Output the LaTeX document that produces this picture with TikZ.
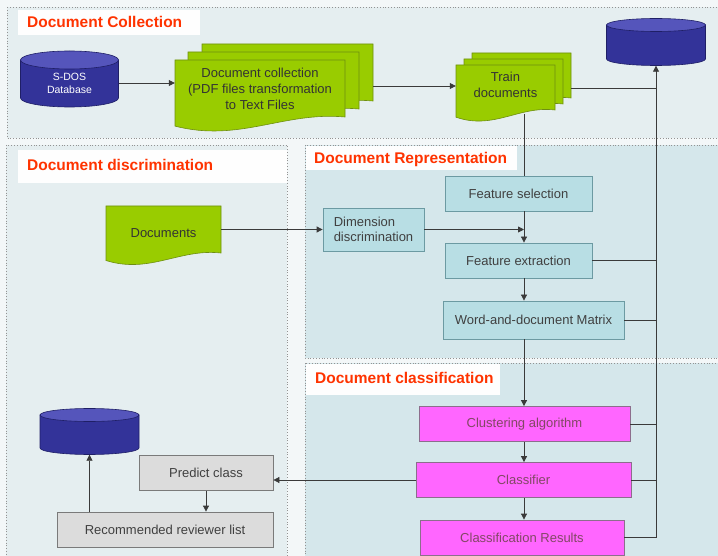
\documentclass[tikz,border=0pt]{standalone}
\usepackage{fontspec}
\setmainfont{Liberation Sans}
\usetikzlibrary{arrows.meta}

\definecolor{pagebg}{HTML}{F3F7F8}
\definecolor{panelbg}{HTML}{E5EEF0}
\definecolor{paneldark}{HTML}{D5E7EB}
\definecolor{titlered}{HTML}{FF3300}
\definecolor{docgreen}{HTML}{99CC00}
\definecolor{docedge}{HTML}{6E8F10}
\definecolor{dbbody}{HTML}{333399}
\definecolor{dbtop}{HTML}{5555BB}
\definecolor{dbedge}{HTML}{1F1F66}
\definecolor{repfill}{HTML}{B8DEE4}
\definecolor{repedge}{HTML}{6C9AA2}
\definecolor{clsfill}{HTML}{FF66FF}
\definecolor{clsedge}{HTML}{8C6E8C}
\definecolor{outfill}{HTML}{DCDCDC}
\definecolor{outedge}{HTML}{7A7A7A}
\definecolor{linegray}{HTML}{3A3A3A}

\newcommand{\wavedoc}[4]{%
	\filldraw [docpage] (#1,#2) -- (#3,#2) -- (#3,#4)
		.. controls ({#3-0.36*(#3-#1)},{#4-0.1*(#4-#2)})
		and ({#1+0.38*(#3-#1)},{#4+0.45*(#4-#2)}) ..
		(#1,{#4+0.16*(#4-#2)}) -- cycle;}
% x centre, y of top ellipse, y of lower side end, x radius, y radius
\newcommand{\dbdisk}[5]{%
	\filldraw [dbpart, fill=dbbody] (#1-#4,#2) -- (#1-#4,#3)
		arc [start angle=180, end angle=0, x radius=#4, y radius=#5] -- (#1+#4,#2) -- cycle;
	\filldraw [dbpart, fill=dbtop] (#1,#2) ellipse [x radius=#4, y radius=#5];}

\begin{document}
\begin{tikzpicture}[x=1pt, y=-1pt,
	panel/.style={draw=gray!85, dotted, line width=0.8pt},
	title/.style={anchor=west, inner sep=0pt, text=titlered, font=\fontsize{15.5}{18}\selectfont\bfseries},
	docpage/.style={fill=docgreen, draw=docedge, line width=0.6pt},
	doctext/.style={align=center, text=black!80, inner sep=0pt, font=\fontsize{13}{16}\selectfont},
	dbpart/.style={draw=dbedge, line width=0.6pt},
	database/.style={inner sep=0pt, minimum width=99pt},
	stepbox/.style={draw, line width=0.8pt, minimum height=35pt, text=black!75, inner sep=0pt,
		font=\fontsize{13}{15.5}\selectfont},
	repbox/.style={stepbox, fill=repfill, draw=repedge},
	clsbox/.style={stepbox, fill=clsfill, draw=clsedge, text=black!55!magenta},
	outbox/.style={stepbox, fill=outfill, draw=outedge},
	link/.style={draw=linegray, line width=0.8pt},
	flow/.style={link, -{Triangle[length=6pt, width=6pt]}}
	]
	\useasboundingbox (0,0) rectangle (718,556);
	\clip (0,0) rectangle (718,556);
	\fill [pagebg] (0,0) rectangle (718,556);

	\filldraw [panel, fill=panelbg] (7,7) rectangle (725,138);
	\filldraw [panel, fill=panelbg] (6,145) rectangle (287,560);
	\filldraw [panel, fill=paneldark] (305,145) rectangle (725,358);
	\filldraw [panel, fill=paneldark] (305,363) rectangle (725,560);
	\fill [white!95!panelbg] (18,10) rectangle (200,35);
	\fill [white!95!panelbg] (18,150) rectangle (287,183);
	\fill [white!95!panelbg] (306,146) rectangle (517,170);
	\fill [white!95!panelbg] (306,364) rectangle (500,395);
	\node [title] (colltitle) at (27,22) {Document Collection};
	\node [title] (disctitle) at (27,165) {Document discrimination};
	\node [title] (reptitle) at (314,159) {Document Representation};
	\node [title] (clstitle) at (315,378) {Document classification};

	\wavedoc{202}{44}{373}{101}
	\wavedoc{188}{52}{359}{109}
	\wavedoc{175}{60}{345}{117}
	\node [doctext, minimum width=170pt, minimum height=57pt] (coll) at (260,88.5)
		{Document collection\\(PDF files transformation\\to Text Files};
	\wavedoc{472}{53}{571}{98}
	\wavedoc{464}{59}{563}{104}
	\wavedoc{456}{65}{555}{110}
	\node [doctext, minimum width=99pt, minimum height=45pt] (train) at (505.5,85) {Train\\documents};
	\wavedoc{106}{206}{221}{253}
	\node [doctext, minimum width=115pt, minimum height=47pt] (docs) at (163.5,229.5) {};
	\node [doctext] (docslabel) at (163.5,233) {Documents};

	\dbdisk{69.5}{60}{98}{49}{9}
	\dbdisk{656}{25}{59}{49.5}{6.5}
	\dbdisk{89.5}{415}{448}{49.5}{6.5}
	\node [database, minimum height=48pt, text=white, align=center, font=\fontsize{10.5}{13}\selectfont]
		(sdos) at (69.5,83) {S-DOS\\Database};
	\node [database, minimum height=41pt] (topdb) at (656,45) {};
	\node [database, minimum height=39pt] (leftdb) at (89.5,435) {};

	\node [repbox, minimum width=147pt] (featsel) at (518.5,193.5) {Feature selection};
	\node [repbox, minimum width=101pt, minimum height=43pt, align=left] (dimdisc) at (373.5,229.5)
		{Dimension\\discrimination};
	\node [repbox, minimum width=147pt] (featext) at (518.5,260.5) {Feature extraction};
	\node [repbox, minimum width=181pt, minimum height=38pt] (wdm) at (533.5,320) {Word-and-document Matrix};
	\node [clsbox, minimum width=211pt] (cluster) at (524.5,424) {Clustering algorithm};
	\node [clsbox, minimum width=215pt] (classifier) at (523.5,480) {Classifier};
	\node [clsbox, minimum width=204pt] (results) at (522,537.5) {Classification Results};
	\node [outbox, minimum width=134pt] (predict) at (206,473) {Predict class};
	\node [outbox, minimum width=216pt] (reviewers) at (165,529.5) {Recommended reviewer list};

	\coordinate (collback) at (373,86);
	\coordinate (trainback) at (571,88);
	\coordinate (trainfoot) at (524,114);
	\coordinate (spine) at (524,0);

	\draw [flow] (sdos.east) -- (sdos.east -| coll.west);
	\draw [flow] (collback) -- (collback -| train.west);
	\draw [link] (trainback) -- (trainback -| topdb.south);
	\draw [link] (trainfoot) -- (featsel.north -| spine);
	\draw [flow] (docs.east) -- (dimdisc.west);
	\draw [flow] (dimdisc.east) -- (dimdisc.east -| spine);
	\draw [flow] (featsel.south -| spine) -- (featext.north -| spine);
	\draw [flow] (featext.south -| spine) -- (wdm.north -| spine);
	\draw [flow] (wdm.south -| spine) -- (cluster.north -| spine);
	\draw [flow] (cluster.south -| spine) -- (classifier.north -| spine);
	\draw [flow] (classifier.south -| spine) -- (results.north -| spine);
	\draw [flow] (results.east) -| (topdb.south);
	\draw [link] (featext.east) -- (featext.east -| topdb.south);
	\draw [link] (wdm.east) -- (wdm.east -| topdb.south);
	\draw [link] (cluster.east) -- (cluster.east -| topdb.south);
	\draw [link] (classifier.east) -- (classifier.east -| topdb.south);
	\draw [flow] (classifier.west) -- (classifier.west -| predict.east);
	\draw [flow] (predict.south) -- (reviewers.north -| predict.south);
	\draw [flow] (reviewers.north -| leftdb.south) -- (leftdb.south);
\end{tikzpicture}
\end{document}
